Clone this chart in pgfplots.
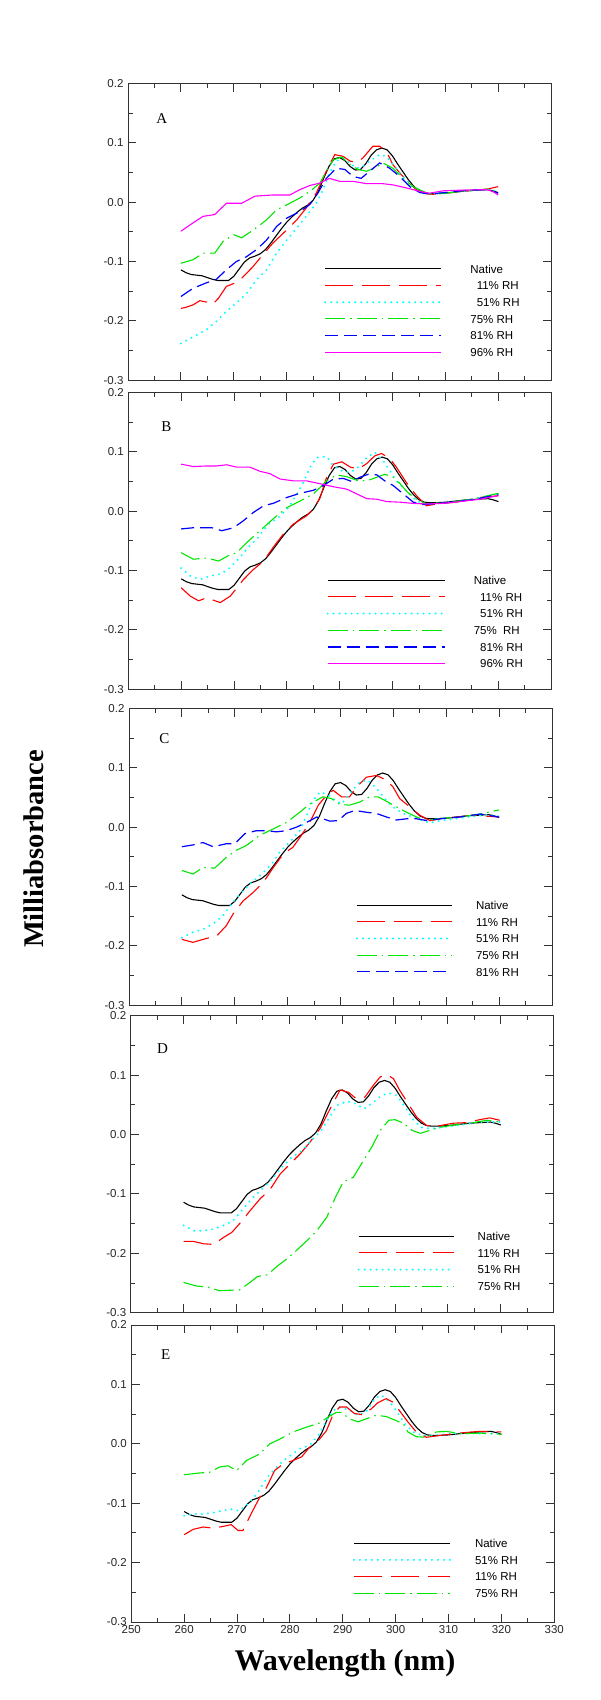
\documentclass[border=0pt]{standalone}
\usepackage{pgfplots}
\usepackage{pgfplotstable}
\pgfplotsset{compat=1.18}
\usepackage{fontspec}
\setmainfont{Liberation Sans}
\newfontfamily\timesfont{Liberation Serif}

\definecolor{cRed}{RGB}{255,0,0}
\definecolor{cCyan}{RGB}{0,255,255}
\definecolor{cGreen}{RGB}{0,230,0}
\definecolor{cBlue}{RGB}{0,0,255}
\definecolor{cMag}{RGB}{255,0,255}

% ---------- data ----------
\pgfplotstableread{
x y
260 -0.114
261 -0.119
262 -0.122
263 -0.123
264 -0.124
265 -0.127
266 -0.130
267 -0.132
268 -0.132
269 -0.132
270 -0.125
271 -0.113
272 -0.101
273 -0.094
274 -0.091
275 -0.087
276 -0.080
277 -0.069
278 -0.057
279 -0.045
280 -0.034
281 -0.025
282 -0.017
283 -0.010
284 -0.005
285 0.003
286 0.018
287 0.040
288 0.060
289 0.073
290 0.075
291 0.070
292 0.060
293 0.054
294 0.055
295 0.065
296 0.079
297 0.088
298 0.091
299 0.088
300 0.078
301 0.064
302 0.051
303 0.038
304 0.027
305 0.019
306 0.015
307 0.014
308 0.014
310 0.015
312 0.017
314 0.019
316 0.020
318 0.021
319 0.019
320 0.016
}\native

\pgfplotstableread{
x y
260 -0.179
261 -0.177
262.3 -0.173
263.6 -0.166
265.2 -0.169
266 -0.172
267.1 -0.162
268.6 -0.142
270 -0.137
271.5 -0.128
273.4 -0.111
275.2 -0.092
277.4 -0.069
280 -0.047
281.9 -0.030
283.7 -0.010
285.6 0.015
287.5 0.052
289.1 0.080
290.7 0.077
292 0.069
293.2 0.067
294.4 0.074
296.3 0.094
297.6 0.094
298.9 0.085
300.1 0.063
301.4 0.049
302.9 0.035
304.5 0.021
306.4 0.014
308 0.013
310 0.015
312 0.017
314 0.019
316 0.020
318 0.022
320 0.026
}\Aeleven

\pgfplotstableread{
x y
260 -0.238
262.3 -0.227
264.8 -0.215
266.7 -0.201
268.6 -0.184
270.5 -0.170
272.4 -0.154
274.3 -0.131
276.2 -0.114
278.1 -0.086
280 -0.064
281.9 -0.044
283.7 -0.024
285.6 -0.002
286.9 0.021
288.1 0.049
289.4 0.069
290.7 0.074
291.9 0.066
293.2 0.057
294.4 0.060
296 0.071
297.6 0.080
298.9 0.077
300.1 0.063
302 0.043
303.9 0.026
305.8 0.018
307 0.014
310 0.015
314 0.019
318 0.021
320 0.018
}\Afiftyone

\pgfplotstableread{
x y
260 -0.103
262.3 -0.097
264.2 -0.086
266.4 -0.086
268 -0.066
270 -0.055
271.5 -0.060
273.7 -0.047
276.2 -0.030
278.1 -0.013
280.6 -0.002
282.5 0.007
284.4 0.018
286.3 0.032
287.5 0.052
288.8 0.071
290.4 0.076
292 0.063
293.5 0.055
295.1 0.052
296.6 0.057
298.2 0.066
300.1 0.057
302 0.040
303.9 0.026
305.8 0.018
307 0.014
310 0.015
314 0.019
318 0.022
320 0.018
}\Aseventyfive

\pgfplotstableread{
x y
260 -0.159
262.3 -0.145
264.8 -0.136
266.7 -0.130
268.6 -0.114
270.5 -0.100
272.4 -0.092
274.3 -0.080
276.2 -0.064
278.1 -0.041
280 -0.027
282.5 -0.016
284.4 -0.004
285.9 0.015
287.5 0.040
289.4 0.057
291 0.055
292.6 0.043
294.1 0.040
295.7 0.052
297.6 0.066
299.5 0.057
301.4 0.043
303.3 0.026
305.2 0.016
307 0.014
310 0.016
314 0.020
318 0.021
320 0.015
}\Aeightyone

\pgfplotstableread{
x y
260 -0.049
262.3 -0.035
264.2 -0.024
266.4 -0.021
268.6 -0.002
271.5 -0.002
274 0.010
277.4 0.012
280.6 0.012
282.5 0.021
284.4 0.028
286.3 0.032
288.1 0.040
290 0.035
292.6 0.035
295.1 0.031
298.2 0.031
300.1 0.029
302.6 0.024
305.2 0.018
307 0.015
309.6 0.019
312.7 0.020
317.7 0.021
319 0.018
320 0.012
}\Aninetysix

\pgfplotstableread{
x y
260 -0.129
261.7 -0.143
263.3 -0.151
264.8 -0.146
267.4 -0.154
269.3 -0.143
271.8 -0.115
273.7 -0.098
275.6 -0.084
277.4 -0.061
279.3 -0.039
281.2 -0.022
283.7 -0.008
285 0.003
286.3 0.023
287.5 0.057
288.8 0.079
290.4 0.083
292 0.074
293.5 0.071
295.1 0.080
296.6 0.093
297.9 0.097
299.5 0.088
300.7 0.074
302.6 0.048
304.5 0.026
306.4 0.009
308.3 0.012
312 0.015
316.5 0.023
320 0.026
}\Beleven

\pgfplotstableread{
x y
260 -0.096
261.7 -0.109
263.6 -0.115
265.5 -0.109
267.4 -0.106
268.9 -0.098
270.8 -0.081
272.7 -0.061
274.6 -0.044
276.5 -0.022
278.4 -0.011
280.3 0.006
281.9 0.029
283.1 0.048
284.4 0.074
285.6 0.090
287.5 0.092
288.8 0.076
290.4 0.068
292 0.065
293.5 0.074
295.1 0.090
296.6 0.099
298.2 0.085
299.5 0.068
300.7 0.051
302.6 0.034
304.5 0.017
306.4 0.012
310 0.014
315 0.020
320 0.029
}\Bfiftyone

\pgfplotstableread{
x y
260 -0.070
262.3 -0.081
264.8 -0.079
267.1 -0.084
268.9 -0.075
270.5 -0.070
272.4 -0.053
274.9 -0.033
277.4 -0.013
280 0.006
282.5 0.017
285 0.029
286.3 0.040
287.5 0.051
289.4 0.061
291.3 0.058
293.2 0.052
295.1 0.051
297 0.057
298.5 0.062
300.1 0.057
301.4 0.046
302.9 0.031
304.5 0.020
306.4 0.012
310 0.014
315 0.020
320 0.030
}\Bseventyfive

\pgfplotstableread{
x y
260 -0.030
262.3 -0.028
264.2 -0.028
265.8 -0.028
267.7 -0.033
269.9 -0.028
271.8 -0.016
273.7 -0.002
275.6 0.009
277.4 0.013
280 0.023
282.5 0.030
285 0.035
286.9 0.043
288.8 0.054
290.7 0.055
292.2 0.050
293.8 0.057
295.4 0.062
297 0.061
298.5 0.051
300.1 0.043
302 0.029
303.9 0.015
305.8 0.011
310 0.014
315 0.019
320 0.028
}\Beightyone

\pgfplotstableread{
x y
260 0.079
262.3 0.075
264.8 0.076
266.7 0.076
268.6 0.078
270.5 0.074
273 0.074
274.9 0.067
276.8 0.063
278.7 0.054
281.2 0.051
283.7 0.051
286.3 0.046
288.8 0.041
291.3 0.037
293.2 0.029
295.1 0.021
297 0.020
298.9 0.016
301.4 0.015
303.9 0.013
306.4 0.012
309.5 0.013
312.7 0.016
316.5 0.020
320 0.026
}\Bninetysix

\pgfplotstableread{
x y
260 -0.189
262.1 -0.194
264 -0.189
266.6 -0.183
268.4 -0.166
269.7 -0.146
271.6 -0.124
273.5 -0.110
275.4 -0.093
277.3 -0.068
279.2 -0.045
281 -0.034
282.6 -0.014
284.2 0.008
285.8 0.037
287.3 0.053
288.6 0.062
290.2 0.051
291.7 0.051
293.3 0.070
294.9 0.084
296.8 0.087
298.7 0.079
299.9 0.068
301.2 0.048
303.1 0.034
305 0.020
306.9 0.011
310 0.015
315 0.020
320 0.017
}\Celeven

\pgfplotstableread{
x y
260 -0.186
262.1 -0.177
264 -0.172
265.9 -0.163
267.8 -0.149
269.4 -0.129
271.3 -0.110
273.2 -0.093
275.1 -0.079
277 -0.062
278.5 -0.042
280.4 -0.025
282.3 -0.006
283.6 0.020
284.8 0.045
286.1 0.059
287.3 0.056
288.6 0.048
290.2 0.039
291.7 0.056
293.6 0.076
295.2 0.079
296.8 0.065
298.4 0.048
299.9 0.034
301.8 0.023
303.7 0.017
305.6 0.011
306.9 0.007
309 0.011
314 0.017
318 0.021
320 0.018
}\Cfiftyone

\pgfplotstableread{
x y
260 -0.073
262.1 -0.079
264 -0.068
266.2 -0.069
268.4 -0.051
270.3 -0.039
272.2 -0.031
274.7 -0.014
277.3 -0.003
279.8 0.008
282.3 0.025
284.2 0.039
286.7 0.051
288.3 0.048
289.9 0.038
291.7 0.037
293.6 0.042
295.5 0.051
297.1 0.051
299 0.042
300.6 0.034
302.5 0.025
304.4 0.017
306.3 0.011
308.2 0.014
312.6 0.017
316.4 0.022
320 0.029
}\Cseventyfive

\pgfplotstableread{
x y
260 -0.033
262.1 -0.030
264 -0.026
265.9 -0.033
268.4 -0.028
270 -0.028
271.9 -0.011
274.1 -0.006
276 -0.006
277.9 -0.008
279.8 -0.006
281.7 0.000
283.6 0.008
285.5 0.017
286.7 0.014
288 0.010
289.6 0.011
291.1 0.023
292.7 0.028
294.9 0.025
296.8 0.023
298.7 0.017
300.6 0.012
302.5 0.014
304.4 0.014
306.3 0.011
308.8 0.014
312.6 0.017
316.4 0.022
320 0.017
}\Ceightyone

\pgfplotstableread{
x y
260 -0.180
261.9 -0.180
263.8 -0.184
265.7 -0.185
267.6 -0.173
269.1 -0.165
270.7 -0.149
272.6 -0.128
274.5 -0.108
276.4 -0.092
278.3 -0.066
280.2 -0.049
282 -0.033
283.9 -0.013
285.8 0.010
287.7 0.043
289.6 0.075
291.2 0.071
292.7 0.060
294.3 0.063
295.9 0.083
297.2 0.097
298.4 0.101
299.7 0.094
300.9 0.074
302.5 0.052
304.1 0.029
306 0.015
308.5 0.015
311 0.019
313.5 0.020
316 0.025
317.9 0.028
319.8 0.024
}\Deleven

\pgfplotstableread{
x y
260 -0.153
261.9 -0.162
263.8 -0.162
265.7 -0.159
267.6 -0.153
269.4 -0.145
271 -0.128
272.9 -0.108
274.8 -0.092
276.7 -0.075
278.6 -0.055
280.5 -0.038
282.4 -0.027
284.2 -0.010
285.8 0.004
287.4 0.026
289 0.049
290.9 0.056
292.5 0.052
294.1 0.043
295.6 0.052
297.2 0.064
298.7 0.070
300.3 0.066
301.9 0.046
303.5 0.024
305 0.012
306.6 0.010
309.1 0.012
312.3 0.016
316 0.021
320 0.021
}\Dfiftyone

\pgfplotstableread{
x y
260 -0.249
262.4 -0.255
264.6 -0.257
266.8 -0.263
269.3 -0.262
270.5 -0.262
272.1 -0.252
274 -0.239
275.9 -0.236
277.8 -0.221
279.3 -0.211
281 -0.198
283.3 -0.179
285.2 -0.162
287.1 -0.139
288.7 -0.106
290.2 -0.080
292.1 -0.072
294 -0.044
295.6 -0.021
297.2 0.007
298.8 0.024
300 0.025
301.6 0.019
303.2 0.007
304.8 0.002
306.6 0.007
308.5 0.012
311 0.016
313.5 0.018
317.4 0.024
320 0.021
}\Dseventyfive

\pgfplotstableread{
x y
260 -0.121
261.7 -0.118
263.6 -0.118
265.5 -0.116
267.4 -0.112
268.9 -0.110
270.5 -0.113
272.1 -0.101
273.7 -0.085
274.9 -0.068
276.2 -0.051
278.1 -0.034
280 -0.020
281.9 -0.008
283.7 -0.003
285.6 0.017
286.9 0.039
288.1 0.056
289.7 0.062
291.3 0.056
292.9 0.048
294.4 0.054
296 0.076
297.3 0.082
298.9 0.070
300.1 0.056
301.7 0.034
303.3 0.020
305.2 0.014
307 0.014
312 0.018
320 0.017
}\Efiftyone

\pgfplotstableread{
x y
260 -0.153
261.7 -0.144
263.6 -0.140
265.5 -0.142
267.4 -0.139
268.9 -0.136
270.2 -0.146
271.1 -0.146
273 -0.112
274.3 -0.090
275.6 -0.073
277.1 -0.045
278.7 -0.034
280.6 -0.028
282.2 -0.022
283.7 -0.006
285.6 0.008
286.9 0.022
288.1 0.048
289.4 0.062
290.7 0.062
292.2 0.051
293.8 0.049
295.4 0.059
296.6 0.069
298.2 0.076
299.5 0.070
300.7 0.056
302.3 0.037
303.9 0.020
305.8 0.011
308.3 0.014
312 0.018
315.8 0.021
320 0.020
}\Eeleven

\pgfplotstableread{
x y
260 -0.052
263 -0.049
264.8 -0.048
266.7 -0.039
268.3 -0.037
269.9 -0.045
271.8 -0.028
274.3 -0.017
276.2 0.000
278.1 0.008
280.6 0.020
283.1 0.028
285.6 0.035
287.2 0.045
288.8 0.053
289.7 0.053
291.3 0.042
292.9 0.037
294.4 0.042
296.3 0.048
298.2 0.046
300.1 0.039
301.4 0.034
302.3 0.020
303.9 0.012
305.8 0.011
307.7 0.020
309.6 0.021
312.2 0.017
316 0.018
320 0.016
}\Eseventyfive

% ---------- styles ----------
\tikzset{
  sNat/.style={black, line width=1.1pt},
  sEleven/.style={cRed, line width=1.1pt, dash pattern=on 28pt off 9pt},
  sFifty/.style={cCyan, line width=2.2pt, line cap=round, dash pattern=on 0pt off 6pt},
  sSeventy/.style={cGreen, line width=1.1pt, dash pattern=on 20pt off 5pt on 1.5pt off 5pt},
  sEighty/.style={cBlue, line width=1.2pt, dash pattern=on 13pt off 6pt},
  sNinety/.style={cMag, line width=1.1pt},
}
\pgfplotsset{
  panel/.style={
    scale only axis, width=423pt, height=297pt,
    anchor=north west,
    xmin=250, xmax=330, ymin=-0.3, ymax=0.2,
    xtick={250,260,270,280,290,300,310,320,330},
    minor xtick={255,265,275,285,295,305,315,325},
    ytick={-0.3,-0.2,-0.1,0,0.1,0.2},
    minor ytick={-0.25,-0.15,-0.05,0.05,0.15},
    yticklabels={-0.3,-0.2,-0.1,0.0,0.1,0.2},
    xticklabels={},
    tick align=inside,
    major tick length=8.3pt, minor tick length=4.5pt,
    axis line style={black!80, line width=1pt},
    every tick/.style={black!80, line width=1pt},
    ticklabel style={font=\fontsize{11.5}{12}\selectfont, text=black!85},
    yticklabel style={xshift=-1pt},
    clip=false,
  },
  leg/.style n args={4}{
    legend style={at={(axis cs:#1,#2)}, anchor=north west, draw=none, fill=none,
      inner sep=0pt, outer sep=0pt, row sep=8.1pt,
      font=\fontsize{11.5}{12}\selectfont,
      nodes={inner sep=0pt, text height=8.6pt, text depth=0pt},
      /tikz/every odd column/.append style={column sep=#4pt}},
    legend cell align=left,
    legend image code/.code={\draw[##1] (0pt,0pt) -- (#3pt,0pt);},
  },
}

\begin{document}
\begin{tikzpicture}
\path[use as bounding box] (0pt,0pt) rectangle (600pt,-1700pt);

% ----- A -----
\begin{axis}[panel, at={(128pt,-83.3pt)}, leg={287.1}{-0.105}{116}{28}]
\addplot[sNat] table {\native};
\addplot[sEleven] table {\Aeleven};
\addplot[sFifty] table {\Afiftyone};
\addplot[sSeventy] table {\Aseventyfive};
\addplot[sEighty] table {\Aeightyone};
\addplot[sNinety] table {\Aninetysix};
\legend{Native,\ \ 11\% RH,\ \ 51\% RH,75\% RH,81\% RH,96\% RH}
\node[font=\timesfont\fontsize{15}{15}\selectfont] at (axis cs:256.4,0.141) {A};
\end{axis}

% ----- B -----
\begin{axis}[panel, at={(128.3pt,-392.3pt)}, leg={287.5}{-0.109}{117}{28}]
\addplot[sNat] table {\native};
\addplot[sEleven] table {\Beleven};
\addplot[sFifty] table {\Bfiftyone};
\addplot[sSeventy] table {\Bseventyfive};
\addplot[sEighty] table {\Beightyone};
\addplot[sNinety] table {\Bninetysix};
\legend{Native,\ \ 11\% RH,\ \ 51\% RH,75\%\ \ RH,\ \ 81\% RH,\ \ 96\% RH}
\node[font=\timesfont\fontsize{15}{15}\selectfont] at (axis cs:257.2,0.143) {B};
\end{axis}

% ----- C -----
\begin{axis}[panel, at={(129pt,-708.3pt)}, leg={292.9}{-0.124}{95}{23}]
\addplot[sNat] table {\native};
\addplot[sEleven] table {\Celeven};
\addplot[sFifty] table {\Cfiftyone};
\addplot[sSeventy] table {\Cseventyfive};
\addplot[sEighty] table {\Ceightyone};
\legend{Native,11\% RH,51\% RH,75\% RH,81\% RH}
\node[font=\timesfont\fontsize{15}{15}\selectfont] at (axis cs:256.7,0.149) {C};
\end{axis}

% ----- D -----
\begin{axis}[panel, at={(130.7pt,-1015.7pt)}, leg={292.9}{-0.164}{95}{23}]
\addplot[sNat] table {\native};
\addplot[sEleven] table {\Deleven};
\addplot[sFifty] table {\Dfiftyone};
\addplot[sSeventy] table {\Dseventyfive};
\legend{Native,11\% RH,51\% RH,75\% RH}
\node[font=\timesfont\fontsize{15}{15}\selectfont] at (axis cs:256.0,0.144) {D};
\end{axis}

% ----- E -----
\begin{axis}[panel, at={(131.3pt,-1325pt)}, leg={291.9}{-0.160}{96}{24},
  xticklabels={250,260,270,280,290,300,310,320,330}]
\addplot[sNat] table {\native};
\addplot[sFifty] table {\Efiftyone};
\addplot[sEleven] table {\Eeleven};
\addplot[sSeventy] table {\Eseventyfive};
\legend{Native,51\% RH,11\% RH,75\% RH}
\node[font=\timesfont\fontsize{15}{15}\selectfont] at (axis cs:256.5,0.151) {E};
\end{axis}

\node[rotate=90, font=\timesfont\bfseries\fontsize{28.5}{30}\selectfont] at (34pt,-849pt) {Milliabsorbance};
\node[font=\timesfont\bfseries\fontsize{30}{32}\selectfont] at (345pt,-1663pt) {Wavelength (nm)};
\end{tikzpicture}
\end{document}
